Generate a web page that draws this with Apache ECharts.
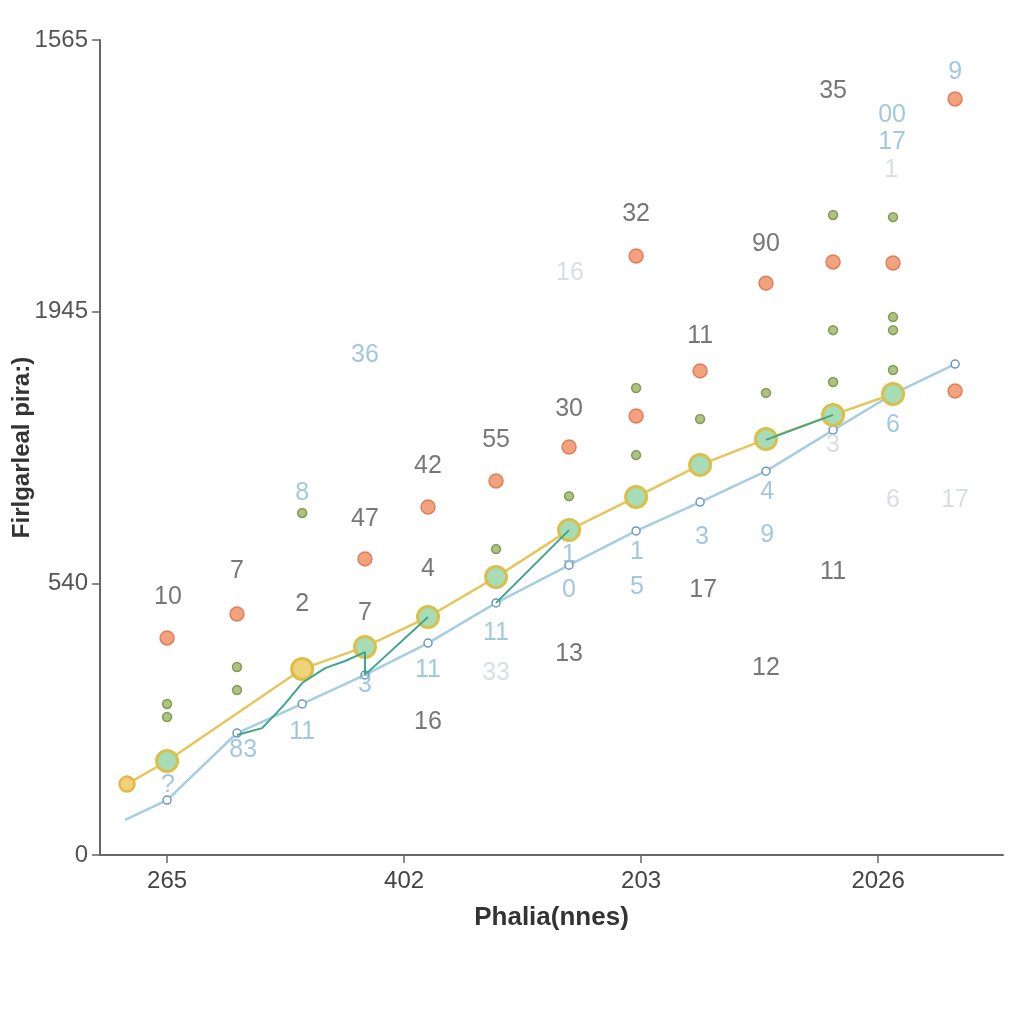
<!DOCTYPE html>
<html><head><meta charset="utf-8">
<script src="https://cdn.jsdelivr.net/npm/echarts@6/dist/echarts.min.js"></script>
<style>html,body{margin:0;padding:0;background:#fff}#c{width:1024px;height:1024px}</style>
</head><body><div id="c"></div>
<script>
// ---- data ----
const xTickValues = [0, 1, 2, 3];
const xTickLabels = ['265', '402', '203', '2026'];
const yTickLabels = ['0', '540', '1945', '1565'];

const yellowX = [-0.169, 0, 0.570, 0.835, 1.101, 1.388, 1.696, 1.979, 2.249, 2.527, 2.810, 3.063];
const yellowY = [0.261, 0.346, 0.685, 0.766, 0.876, 1.023, 1.196, 1.318, 1.436, 1.531, 1.620, 1.697];

const blueX = [-0.177, 0, 0.295, 0.570, 0.835, 1.101, 1.388, 1.696, 1.979, 2.249, 2.527, 2.810, 3.063, 3.325];
const blueY = [0.129, 0.202, 0.449, 0.556, 0.663, 0.780, 0.928, 1.067, 1.193, 1.299, 1.413, 1.564, 1.697, 1.807];

const tealX = [0.295, 0.401, 0.489, 0.570, 0.667, 0.751, 0.835, 0.835, 1.101, 1.25, 1.388, 1.696, 2.1, 2.527, 2.810];
const tealY = [0.442, 0.467, 0.548, 0.633, 0.688, 0.714, 0.747, 0.663, 0.876, null, 0.928, 1.196, null, 1.528, 1.620];

const orangeX = [0, 0.295, 0.835, 1.101, 1.388, 1.696, 1.979, 1.979, 2.249, 2.527, 2.810, 3.063, 3.325, 3.325];
const orangeY = [0.799, 0.887, 1.090, 1.281, 1.377, 1.502, 1.616, 2.205, 1.782, 2.105, 2.183, 2.179, 2.783, 1.708];

const greenX = [0, 0, 0.295, 0.295, 0.570, 1.388, 1.696, 1.979, 1.979, 2.249, 2.527, 2.810, 2.810, 2.810, 3.063, 3.063, 3.063, 3.063];
const greenY = [0.556, 0.508, 0.692, 0.607, 1.259, 1.126, 1.321, 1.719, 1.472, 1.605, 1.701, 2.356, 1.932, 1.741, 2.348, 1.980, 1.932, 1.785];

const darkLabelX = [0.004, 0.295, 0.570, 0.835, 0.835, 1.101, 1.101, 1.101, 1.388, 1.696, 1.696, 1.979, 2.249, 2.262, 2.527, 2.527, 2.810, 2.810];
const darkLabelY = [0.950, 1.045, 0.924, 1.237, 0.891, 1.432, 1.053, 0.490, 1.528, 1.642, 0.740, 2.359, 1.910, 0.975, 2.249, 0.688, 1.042, 2.812];
const darkLabelText = ['10', '7', '2', '47', '7', '42', '4', '16', '55', '30', '13', '32', '11', '17', '90', '12', '11', '35'];

const blueLabelX = [0.570, 0.835, 0.004, 0.321, 0.570, 0.835, 1.101, 1.388, 1.696, 1.696, 1.983, 1.983, 2.257, 2.532, 2.532, 3.063, 3.325, 3.059, 3.059];
const blueLabelY = [1.332, 1.840, 0.258, 0.386, 0.453, 0.626, 0.681, 0.817, 1.104, 0.975, 1.115, 0.986, 1.170, 1.178, 1.336, 1.583, 2.882, 2.724, 2.624];
const blueLabelText = ['8', '36', '?', '83', '11', '3', '11', '11', '1', '0', '1', '5', '3', '9', '4', '6', '9', '00', '17'];

const paleLabelX = [1.388, 1.700, 3.063, 3.325, 3.055, 2.810];
const paleLabelY = [0.670, 2.142, 1.307, 1.307, 2.521, 1.509];
const paleLabelText = ['33', '16', '6', '17', '1', '3'];

// ---- build ----
const zip = (xs, ys) => xs.map((x, i) => [x, ys[i] == null ? '-' : ys[i]]);
const zipT = (xs, ys, ts) => xs.map((x, i) => [x, ys[i], ts[i]]);
const FONT = "'Liberation Sans Narrow', 'Liberation Sans', Arial, sans-serif";

const yellowData = zip(yellowX, yellowY).map((p, i) => {
  if (i === 0) return { value: p, symbolSize: 15, itemStyle: { color: '#f1d27a', borderColor: '#e2b846', borderWidth: 2.5 } };
  if (i === 2) return { value: p, itemStyle: { color: '#efd379', borderColor: '#dfbb48', borderWidth: 3 } };
  return { value: p };
});
const blueData = zip(blueX, blueY).map((p, i) => i === 0 ? { value: p, symbolSize: 0 } : { value: p });

function labelSeries(xs, ys, ts, color, size) {
  return {
    type: 'scatter', data: zipT(xs, ys, ts), symbolSize: 0, z: 10,
    encode: { x: 0, y: 1 },
    label: { show: true, position: 'inside', formatter: p => p.value[2], color: color, fontSize: size, fontFamily: FONT },
    silent: true
  };
}

const chart = echarts.init(document.getElementById('c'), null, { renderer: 'canvas' });
chart.setOption({
  backgroundColor: '#ffffff',
  animation: false,
  grid: { left: 100, right: 21, top: 40, bottom: 169, containLabel: false, outerBoundsMode: 'none' },
  xAxis: {
    type: 'value', min: -0.283, max: 3.527,
    name: 'Phalia(nnes)', nameLocation: 'middle', nameGap: 50, nameMoveOverlap: false,
    nameTextStyle: { fontSize: 26, fontWeight: 'bold', color: '#333', fontFamily: FONT },
    axisLine: { show: true, onZero: false, lineStyle: { color: '#666', width: 2 } },
    axisTick: { show: true, customValues: xTickValues, length: 8, lineStyle: { color: '#666', width: 1.5 } },
    axisLabel: { customValues: xTickValues, formatter: v => xTickLabels[Math.round(v)], fontSize: 24, color: '#444', margin: 14, fontFamily: FONT },
    splitLine: { show: false }
  },
  yAxis: {
    type: 'value', min: 0, max: 3, interval: 1,
    name: 'Firlgarleal pira:)', nameLocation: 'middle', nameGap: 66, nameRotate: 90, nameMoveOverlap: false,
    nameTextStyle: { fontSize: 24, fontWeight: 'bold', color: '#333', fontFamily: FONT },
    axisLine: { show: true, onZero: false, lineStyle: { color: '#666', width: 2 } },
    axisTick: { show: true, length: 8, lineStyle: { color: '#666', width: 1.5 } },
    axisLabel: { formatter: v => yTickLabels[Math.round(v)], fontSize: 24, color: '#555', margin: 12, fontFamily: "'Liberation Sans', Arial, sans-serif" },
    splitLine: { show: false }
  },
  series: [
    { type: 'line', data: blueData, z: 2, symbol: 'circle', symbolSize: 8,
      lineStyle: { color: '#a6cde0', width: 2.5 },
      itemStyle: { color: '#ffffff', borderColor: '#6a98c6', borderWidth: 1.5 } },
    { type: 'line', data: yellowData, z: 3, symbol: 'circle', symbolSize: 21,
      lineStyle: { color: '#e6c65a', width: 2.5 },
      itemStyle: { color: '#a8dcb6', borderColor: '#d8c04c', borderWidth: 3 } },
    { type: 'line', data: zip(tealX, tealY), z: 4, showSymbol: false, connectNulls: false,
      lineStyle: { color: '#3fa68c', width: 2 } },
    { type: 'scatter', data: zip(orangeX, orangeY), z: 5, symbolSize: 14,
      itemStyle: { color: '#f08b5e', borderColor: '#d66e48', borderWidth: 1.5 } },
    { type: 'scatter', data: zip(greenX, greenY), z: 5, symbolSize: 9,
      itemStyle: { color: '#9ab464', borderColor: '#6f8c3c', borderWidth: 1.5 } },
    labelSeries(darkLabelX, darkLabelY, darkLabelText, '#555555', 25),
    labelSeries(blueLabelX, blueLabelY, blueLabelText, '#8bb9d8', 25),
    labelSeries(paleLabelX, paleLabelY, paleLabelText, '#cfd6dc', 25)
  ]
});
</script></body></html>
